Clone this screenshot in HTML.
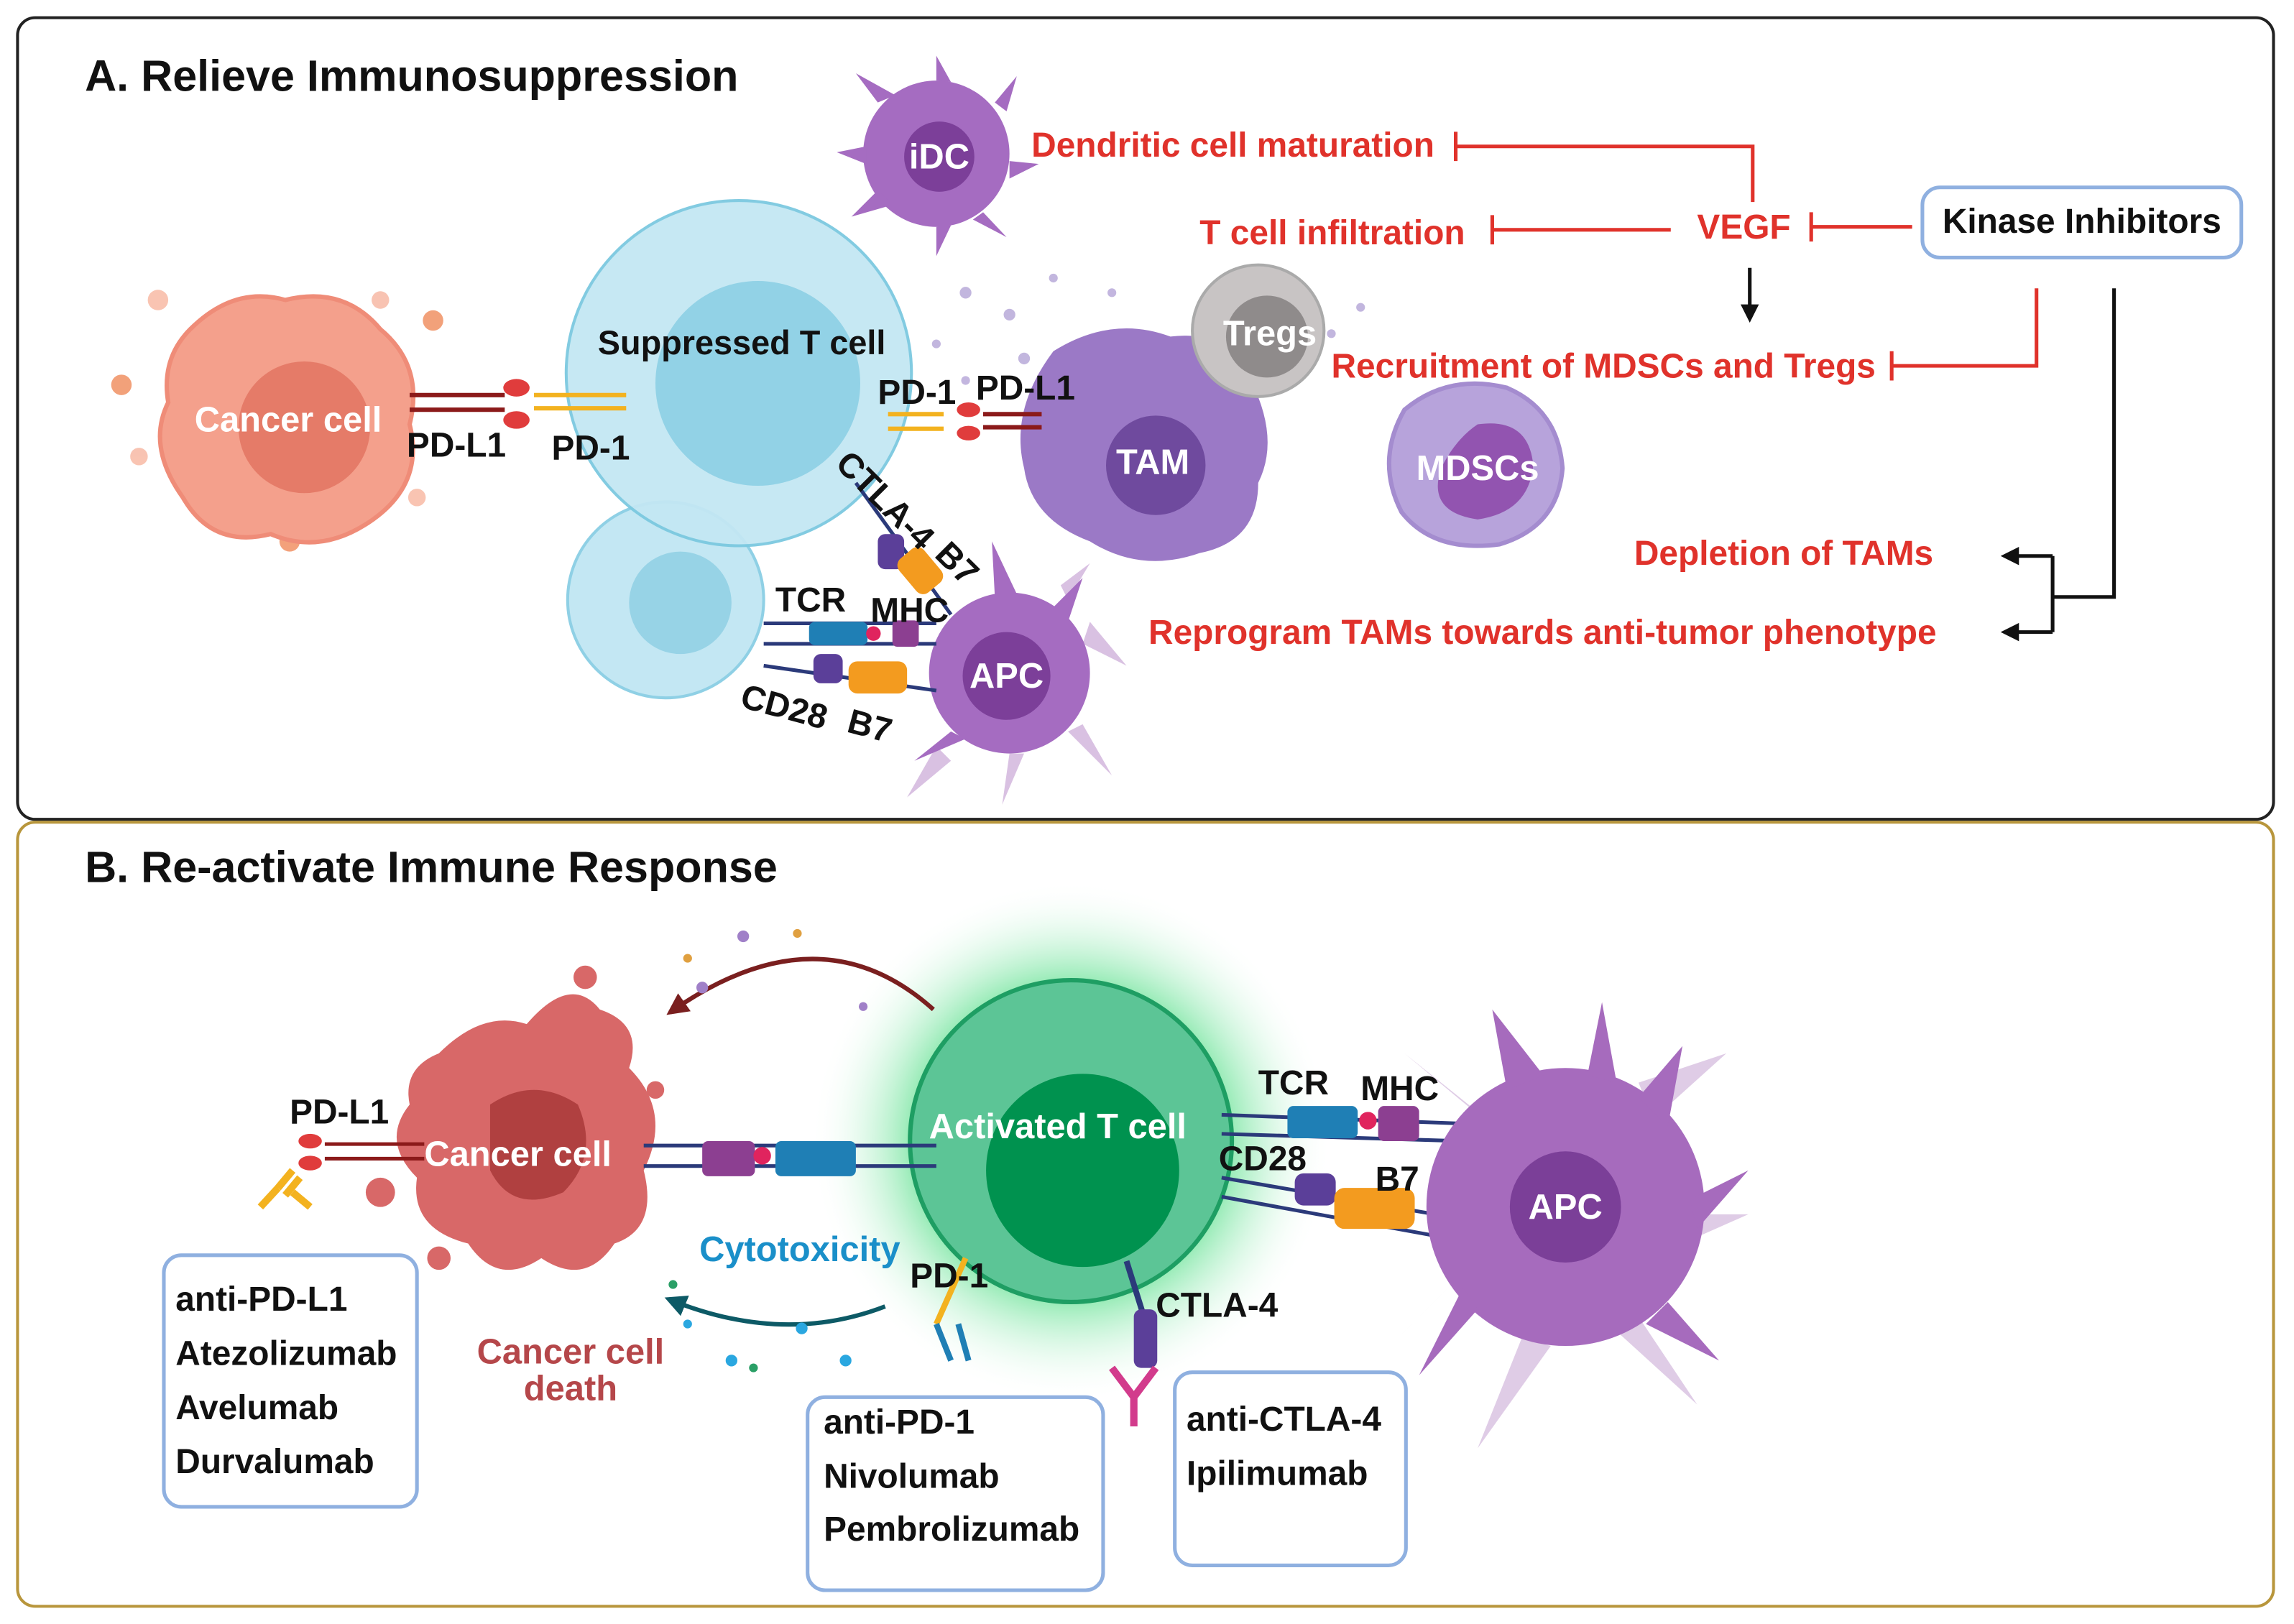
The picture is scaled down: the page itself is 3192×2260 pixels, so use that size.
<!DOCTYPE html>
<html><head><meta charset="utf-8"><style>
html,body{margin:0;padding:0;background:#fff}
svg{display:block}
text{font-family:"Liberation Sans",sans-serif;font-weight:bold}
.r{fill:#e0322b;font-size:23.5px}
.k{fill:#111;font-size:23.5px}
.w{fill:#fff;font-size:24px}
.lr{stroke:#e0322b;stroke-width:2.5;fill:none}
.lk{stroke:#111;stroke-width:2.5;fill:none}
.bx{fill:#fff;stroke:#8fb0e0;stroke-width:2.5}
</style></head><body>
<svg width="3192" height="2260" viewBox="0 0 1568 1110" xmlns="http://www.w3.org/2000/svg">
<defs>
<radialGradient id="glow"><stop offset="0.55" stop-color="#5fe08f" stop-opacity="0.9"/><stop offset="1" stop-color="#ffffff" stop-opacity="0"/></radialGradient>
<marker id="ak" viewBox="0 0 10 10" refX="8" refY="5" markerWidth="5" markerHeight="5" orient="auto"><path d="M0,0L10,5L0,10z" fill="#111"/></marker>
<marker id="ad" viewBox="0 0 10 10" refX="8" refY="5" markerWidth="5" markerHeight="5" orient="auto"><path d="M0,0L10,5L0,10z" fill="#7a1f1f"/></marker>
<marker id="at" viewBox="0 0 10 10" refX="8" refY="5" markerWidth="5" markerHeight="5" orient="auto"><path d="M0,0L10,5L0,10z" fill="#0d5a66"/></marker>
</defs>
<rect x="12" y="12" width="1542" height="548" rx="12" fill="#fff" stroke="#222" stroke-width="2"/>
<rect x="12" y="562" width="1542" height="536" rx="12" fill="#fff" stroke="#b8963c" stroke-width="2"/>
<text x="58" y="62" font-size="30" fill="#111">A. Relieve Immunosuppression</text>
<text x="58" y="603" font-size="30" fill="#111">B. Re-activate Immune Response</text>

<g fill="#f7b59f" opacity="0.8"><circle cx="108" cy="205" r="7"/><circle cx="83" cy="263" r="7" fill="#f08a5a"/><circle cx="296" cy="219" r="7" fill="#f08a5a"/><circle cx="95" cy="312" r="6"/><circle cx="285" cy="340" r="6"/><circle cx="198" cy="370" r="7" fill="#f08a5a"/><circle cx="260" cy="205" r="6"/></g>
<path d="M130,225 Q160,195 195,205 Q235,195 260,225 Q290,250 280,290 Q290,330 255,355 Q220,380 185,365 Q145,375 125,340 Q100,305 115,275 Q110,245 130,225z" fill="#f4a08c" stroke="#ef8c78" stroke-width="3"/>
<circle cx="208" cy="292" r="45" fill="#e57b68"/>
<text class="w" x="197" y="295" text-anchor="middle">Cancer cell</text>

<circle cx="455" cy="410" r="67" fill="#c3e7f3" stroke="#8fd0e5" stroke-width="2"/>
<circle cx="465" cy="412" r="35" fill="#97d3e6"/>
<circle cx="505" cy="255" r="118" fill="#c3e7f3" stroke="#7cc9e0" stroke-width="2" opacity="0.95"/>
<circle cx="518" cy="262" r="70" fill="#92d2e6"/>
<text x="507" y="242" font-size="23" fill="#111" text-anchor="middle">Suppressed T cell</text>

<g stroke-width="3"><line x1="280" y1="270" x2="345" y2="270" stroke="#8b1a1a"/><line x1="280" y1="280" x2="345" y2="280" stroke="#8b1a1a"/>
<ellipse cx="353" cy="265" rx="9" ry="6" fill="#e03c3c" stroke="none"/><ellipse cx="353" cy="287" rx="9" ry="6" fill="#e03c3c" stroke="none"/>
<line x1="365" y1="270" x2="428" y2="270" stroke="#f3b21f"/><line x1="365" y1="279" x2="428" y2="279" stroke="#f3b21f"/></g>
<text class="k" x="278" y="312">PD-L1</text><text class="k" x="377" y="314">PD-1</text>

<g fill="#a56cc1"><circle cx="640" cy="105" r="50"/><path d="M600,70 L585,50 L612,65z M640,55 L640,38 L650,56z M680,70 L695,52 L688,76z M690,110 L710,112 L690,122z M600,130 L582,148 L610,140z M640,155 L640,175 L650,154z M672,145 L688,162 L665,150z M592,100 L572,104 L592,112z"/></g>
<circle cx="642" cy="107" r="24" fill="#7c3f99"/>
<text class="w" x="642" y="115" text-anchor="middle">iDC</text>
<g fill="#9b86c9" opacity="0.6"><circle cx="660" cy="200" r="4"/><circle cx="690" cy="215" r="4"/><circle cx="640" cy="235" r="3"/><circle cx="720" cy="190" r="3"/><circle cx="700" cy="245" r="4"/><circle cx="760" cy="200" r="3"/><circle cx="660" cy="260" r="3"/><circle cx="930" cy="210" r="3"/><circle cx="910" cy="228" r="3"/></g>

<path d="M720,240 Q760,215 800,230 Q840,225 855,260 Q875,300 860,330 Q860,370 820,378 Q780,392 745,370 Q705,355 700,320 Q690,280 720,240z" fill="#9b79c6"/>
<circle cx="790" cy="318" r="34" fill="#6f4a9e"/>
<text class="w" x="788" y="324" text-anchor="middle">TAM</text>
<circle cx="860" cy="226" r="45" fill="#c8c4c4" stroke="#aaa" stroke-width="2"/>
<circle cx="866" cy="230" r="28" fill="#8f8b8b"/>
<text class="w" x="868" y="236" text-anchor="middle" font-size="20">Tregs</text>
<g stroke-width="3"><line x1="607" y1="283" x2="645" y2="283" stroke="#f3b21f"/><line x1="607" y1="293" x2="645" y2="293" stroke="#f3b21f"/>
<ellipse cx="662" cy="280" rx="8" ry="5" fill="#e03c3c"/><ellipse cx="662" cy="296" rx="8" ry="5" fill="#e03c3c"/>
<line x1="672" y1="283" x2="712" y2="283" stroke="#8b1a1a"/><line x1="672" y1="292" x2="712" y2="292" stroke="#8b1a1a"/></g>
<text class="k" x="600" y="276" font-size="20">PD-1</text><text class="k" x="667" y="273" font-size="20">PD-L1</text>

<path d="M960,280 Q990,255 1030,265 Q1065,280 1068,320 Q1065,360 1025,372 Q980,378 958,350 Q940,315 960,280z" fill="#b7a3db" stroke="#a48ccf" stroke-width="3"/>
<path d="M1010,290 Q1045,285 1048,318 Q1045,350 1010,355 Q975,350 985,320 Q995,300 1010,290z" fill="#9254b0"/>
<text class="w" x="1010" y="328" text-anchor="middle">MDSCs</text>

<g fill="#c9a6d6" opacity="0.7"><path d="M640,510 L620,545 L650,520z M690,515 L685,550 L700,515z M730,500 L760,530 L740,495z M740,440 L770,455 L745,425z M725,400 L745,385 L730,410z"/></g>
<g fill="#a56cc1"><circle cx="690" cy="460" r="55"/><path d="M680,408 L678,370 L695,406z M720,415 L740,395 L730,425z M650,500 L625,520 L660,505z"/></g>
<circle cx="688" cy="462" r="30" fill="#7c3f99"/>
<text class="w" x="688" y="470" text-anchor="middle">APC</text>
<g stroke-width="2.5">
<line x1="522" y1="426" x2="640" y2="426" stroke="#2b3a7a"/><line x1="522" y1="440" x2="640" y2="440" stroke="#2b3a7a"/>
<rect x="553" y="425" width="40" height="16" rx="4" fill="#1f7fb5"/><rect x="610" y="424" width="18" height="18" rx="3" fill="#8c3f91"/><circle cx="597" cy="433" r="5" fill="#e0245e"/>
<line x1="522" y1="455" x2="640" y2="472" stroke="#2b3a7a"/><rect x="556" y="447" width="20" height="20" rx="5" fill="#5b3f99"/><rect x="580" y="452" width="40" height="22" rx="6" fill="#f39b1f"/>
<line x1="585" y1="330" x2="650" y2="420" stroke="#2b3a7a"/><rect x="600" y="365" width="18" height="24" rx="5" fill="#5b3f99"/><rect x="618" y="375" width="22" height="30" rx="6" fill="#f39b1f" transform="rotate(-40 629 390)"/>
</g>
<text class="k" x="530" y="418" font-size="17">TCR</text><text class="k" x="595" y="425" font-size="17">MHC</text>
<text class="k" x="505" y="483" font-size="19" transform="rotate(15 505 483)">CD28</text><text class="k" x="578" y="500" font-size="19" transform="rotate(15 578 500)">B7</text>
<text class="k" x="570" y="318" font-size="19" transform="rotate(45 570 318)">CTLA-4</text><text class="k" x="638" y="380" font-size="19" transform="rotate(45 638 380)">B7</text>

<text class="r" x="705" y="107">Dendritic cell maturation</text>
<text class="r" x="820" y="167">T cell infiltration</text>
<text class="r" x="1160" y="163">VEGF</text>
<text class="r" x="910" y="258">Recruitment of MDSCs and Tregs</text>
<text class="r" x="1117" y="386">Depletion of TAMs</text>
<text class="r" x="785" y="440">Reprogram TAMs towards anti-tumor phenotype</text>
<rect class="bx" x="1314" y="128" width="218" height="48" rx="12"/>
<text class="k" x="1423" y="159" text-anchor="middle">Kinase Inhibitors</text>
<path class="lr" d="M1198,138 V100 H995 M995,90 V110"/>
<path class="lr" d="M1142,157 H1020 M1020,147 V167"/>
<path class="lr" d="M1307,155 H1238 M1238,145 V165"/>
<path class="lr" d="M1392,197 V250 H1293 M1293,240 V260"/>
<path class="lk" d="M1196,183 V218" marker-end="url(#ak)"/>
<path class="lk" d="M1445,197 V408 H1403"/>
<path class="lk" d="M1403,380 V432"/>
<path class="lk" d="M1403,380 H1370" marker-end="url(#ak)"/>
<path class="lk" d="M1403,432 H1370" marker-end="url(#ak)"/>

<circle cx="732" cy="780" r="178" fill="url(#glow)"/>
<circle cx="732" cy="780" r="110" fill="#5cc596" stroke="#1e9e63" stroke-width="3"/>
<circle cx="740" cy="800" r="66" fill="#00924f"/>
<text class="w" x="723" y="778" text-anchor="middle">Activated T cell</text>

<path d="M300,720 Q330,690 360,700 Q390,665 410,690 Q440,700 430,730 Q460,760 440,800 Q450,840 420,850 Q400,880 370,860 Q340,880 320,850 Q280,840 285,805 Q260,780 280,755 Q275,730 300,720z" fill="#d86868"/>
<g fill="#d86868"><circle cx="260" cy="815" r="10"/><circle cx="300" cy="860" r="8"/><circle cx="400" cy="668" r="8"/><circle cx="448" cy="745" r="6"/></g>
<path d="M335,755 Q365,735 395,755 Q410,790 385,815 Q350,830 335,800z" fill="#b04040"/>
<text class="w" x="354" y="797" text-anchor="middle">Cancer cell</text>

<g stroke-width="2.5">
<line x1="222" y1="782" x2="290" y2="782" stroke="#8b1a1a"/><line x1="222" y1="792" x2="290" y2="792" stroke="#8b1a1a"/>
<ellipse cx="212" cy="780" rx="8" ry="5" fill="#e03c3c"/><ellipse cx="212" cy="795" rx="8" ry="5" fill="#e03c3c"/>
<path d="M200,800 L190,812 M205,805 L195,817 M190,812 L178,825 M200,815 L212,825" stroke="#f3b21f" stroke-width="5"/>
<line x1="440" y1="783" x2="640" y2="783" stroke="#2b3a7a"/><line x1="440" y1="797" x2="640" y2="797" stroke="#2b3a7a"/>
<rect x="480" y="780" width="36" height="24" rx="4" fill="#8c3f91"/><circle cx="521" cy="790" r="6" fill="#e0245e"/><rect x="530" y="780" width="55" height="24" rx="4" fill="#1f7fb5"/>
<line x1="835" y1="762" x2="1000" y2="768" stroke="#2b3a7a"/><line x1="835" y1="775" x2="1000" y2="780" stroke="#2b3a7a"/>
<rect x="880" y="756" width="48" height="22" rx="4" fill="#1f7fb5"/><circle cx="935" cy="766" r="6" fill="#e0245e"/><rect x="942" y="756" width="28" height="24" rx="4" fill="#8c3f91"/>
<line x1="835" y1="805" x2="1010" y2="835" stroke="#2b3a7a"/><line x1="835" y1="818" x2="1010" y2="850" stroke="#2b3a7a"/>
<rect x="885" y="802" width="28" height="22" rx="6" fill="#5b3f99"/><rect x="912" y="812" width="55" height="28" rx="7" fill="#f39b1f"/>
<line x1="660" y1="860" x2="640" y2="905" stroke="#f3b21f" stroke-width="4"/><path d="M640,905 L650,930 M655,905 L662,930" stroke="#1f7fb5" stroke-width="4"/>
<line x1="770" y1="862" x2="785" y2="910" stroke="#2b3a7a" stroke-width="4"/><rect x="775" y="895" width="16" height="40" rx="5" fill="#5b3f99"/><path d="M760,935 L775,955 L790,935 M775,955 V975" stroke="#d23b8c" stroke-width="5" fill="none"/>
</g>
<g fill="#d7bfe0" opacity="0.8"><path d="M1120,740 L1180,720 L1130,765z M1150,830 L1195,830 L1150,850z M1120,900 L1160,960 L1105,910z M1040,915 L1010,990 L1060,920z M990,880 L950,920 L1000,870z M1010,760 L960,720 L1020,770z"/></g>
<g fill="#a66bbd"><circle cx="1070" cy="825" r="95"/><path d="M1030,745 L1020,690 L1055,735z M1085,735 L1095,685 L1105,740z M1120,750 L1150,715 L1140,770z M1155,820 L1195,800 L1160,840z M1140,890 L1175,930 L1125,905z M1010,895 L970,940 L1000,880z"/></g>
<circle cx="1070" cy="825" r="38" fill="#7b3f98"/>
<text class="w" x="1070" y="833" text-anchor="middle">APC</text>

<path d="M638,690 Q560,620 458,692" fill="none" stroke="#7a1f1f" stroke-width="3" marker-end="url(#ad)"/>
<g fill="#a080c8"><circle cx="508" cy="640" r="4"/><circle cx="545" cy="638" r="3" fill="#e0a040"/><circle cx="480" cy="675" r="4"/><circle cx="590" cy="688" r="3"/><circle cx="470" cy="655" r="3" fill="#e0a040"/></g>
<path d="M605,893 Q535,920 457,888" fill="none" stroke="#0d5a66" stroke-width="3" marker-end="url(#at)"/>
<g fill="#2aa7e0"><circle cx="500" cy="930" r="4"/><circle cx="548" cy="908" r="4"/><circle cx="578" cy="930" r="4"/><circle cx="470" cy="905" r="3"/><circle cx="515" cy="935" r="3" fill="#2a9f66"/><circle cx="460" cy="878" r="3" fill="#2a9f66"/></g>

<text class="k" x="198" y="768">PD-L1</text>
<text class="k" x="622" y="880">PD-1</text>
<text class="k" x="790" y="900">CTLA-4</text>
<text class="k" x="860" y="748" font-size="21">TCR</text>
<text class="k" x="930" y="752" font-size="21">MHC</text>
<text class="k" x="833" y="800" font-size="21">CD28</text>
<text class="k" x="940" y="814" font-size="21">B7</text>
<text x="478" y="862" font-size="24" fill="#1a8fc9">Cytotoxicity</text>
<text x="390" y="932" font-size="24" fill="#b5474a" text-anchor="middle">Cancer cell</text>
<text x="390" y="957" font-size="24" fill="#b5474a" text-anchor="middle">death</text>

<rect class="bx" x="112" y="858" width="173" height="172" rx="12"/>
<text class="k" x="120" y="896">anti-PD-L1</text><text class="k" x="120" y="933">Atezolizumab</text><text class="k" x="120" y="970">Avelumab</text><text class="k" x="120" y="1007">Durvalumab</text>
<rect class="bx" x="552" y="955" width="202" height="132" rx="12"/>
<text class="k" x="563" y="980">anti-PD-1</text><text class="k" x="563" y="1017">Nivolumab</text><text class="k" x="563" y="1053">Pembrolizumab</text>
<rect class="bx" x="803" y="938" width="158" height="132" rx="12"/>
<text class="k" x="811" y="978">anti-CTLA-4</text><text class="k" x="811" y="1015">Ipilimumab</text>
</svg>
</body></html>
